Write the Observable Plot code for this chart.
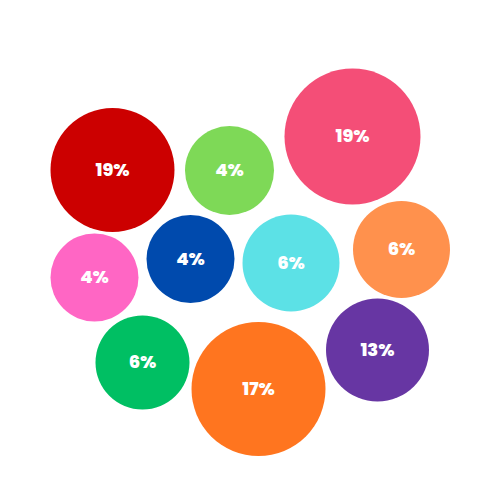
<!DOCTYPE html>
<html>
<head>
<meta charset="utf-8">
<script src="https://cdn.jsdelivr.net/npm/d3@7"></script>
<script src="https://cdn.jsdelivr.net/npm/@observablehq/plot@0.6"></script>
<style>
  html, body { margin: 0; padding: 0; background: #ffffff; }
  #chart { width: 500px; height: 500px; }
</style>
</head>
<body>
<div id="chart"></div>
<script>
// Shares (percent) shown in each bubble
const labels = ["19%", "4%", "19%", "4%", "4%", "6%", "6%", "6%", "17%", "13%"];
const colors = ["#cc0000", "#7ed957", "#f44e77", "#ff66c4", "#004aad", "#5ce1e6", "#ff914d", "#00bf63", "#ff751f", "#6736a3"];
// Bubble layout (centre x, centre y, radius)
const bubbleX = [112, 229, 352, 94, 190, 290.5, 401, 142, 258, 377];
const bubbleY = [169.5, 170, 136, 277, 258.5, 262.5, 249, 362, 388.5, 349.5];
const bubbleR = [62, 44.5, 68, 44, 44, 48.5, 48.5, 47, 67, 51.5];

const data = labels.map((label, i) => ({
  label, color: colors[i], x: bubbleX[i], y: bubbleY[i], r: bubbleR[i]
}));

const chart = Plot.plot({
  width: 500,
  height: 500,
  margin: 0,
  x: {domain: [0, 500], range: [0, 500], axis: null},
  y: {domain: [0, 500], range: [0, 500], axis: null},
  r: {type: "identity"},
  style: {background: "#ffffff"},
  marks: [
    Plot.dot(data, {x: "x", y: "y", r: "r", fill: "color", stroke: null}),
    Plot.text(data, {
      x: "x", y: "y", text: "label",
      fill: "#ffffff",
      fontSize: 18,
      fontWeight: 800,
      fontFamily: "Poppins, Inter, 'Open Sans', sans-serif"
    })
  ]
});

document.getElementById("chart").appendChild(chart);
</script>
</body>
</html>
